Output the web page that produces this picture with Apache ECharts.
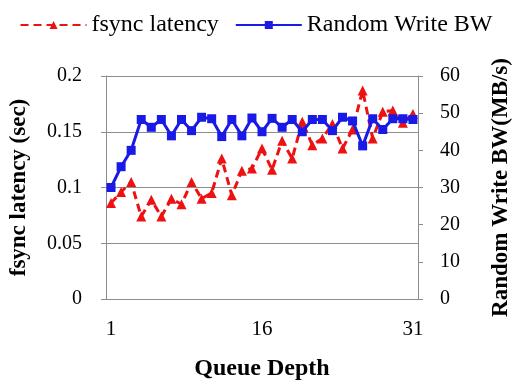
<!DOCTYPE html>
<html>
<head>
<meta charset="utf-8">
<script src="https://cdn.jsdelivr.net/npm/echarts@6/dist/echarts.min.js"></script>
<style>
  html, body { margin: 0; padding: 0; background: #fff; }
  #mychart { width: 512px; height: 383px; }
</style>
</head>
<body>
<div id="mychart"></div>
<script>
"use strict";
// queue depth 1..31
const queueDepth = [];
for (let i = 1; i <= 31; i++) {
    queueDepth.push('' + i);
}
// fsync latency (sec)
const fsyncLatency = [
    0.086, 0.096, 0.105, 0.074, 0.089, 0.074, 0.090, 0.085, 0.105, 0.090,
    0.095, 0.126, 0.093, 0.115, 0.117, 0.135, 0.116, 0.142, 0.126, 0.159,
    0.138, 0.144, 0.157, 0.135, 0.152, 0.187, 0.144, 0.168, 0.169, 0.158,
    0.166
];
// random write bandwidth (MB/s)
const writeBW = [
    30, 35.6, 40, 48.3, 46.2, 48.3, 43.9, 48.3, 45.3, 48.9,
    48.5, 43.7, 48.3, 43.9, 48.7, 45, 48.6, 46.2, 48.3, 45,
    48.3, 48.3, 45.3, 48.9, 47.9, 41.2, 48.5, 45.6, 48.5, 48.5,
    48.3
];

const serif = '"Liberation Serif", "Times New Roman", serif';
const axisGray = '#8c8c8c';

const container = document.getElementById('mychart');
const myChart = echarts.init(container);
const option = {
    animation: false,
    textStyle: { fontFamily: serif },
    legend: {
        top: 8,
        left: 'center',
        itemWidth: 66,
        itemHeight: 10,
        itemGap: 16,
        textStyle: { fontFamily: serif, fontSize: 24, color: '#000' },
        data: ['fsync latency', 'Random Write BW']
    },
    grid: {
        left: 106,
        right: 94,
        top: 76,
        bottom: 84,
        containLabel: false,
        outerBoundsMode: 'none'
    },
    xAxis: {
        type: 'category',
        data: queueDepth,
        boundaryGap: true,
        name: 'Queue Depth',
        nameLocation: 'middle',
        nameGap: 58,
        nameTextStyle: { fontFamily: serif, fontSize: 24, fontWeight: 'bold', color: '#000' },
        axisLine: { lineStyle: { color: axisGray, width: 1 } },
        axisTick: { interval: 0, length: 5, lineStyle: { color: axisGray } },
        axisLabel: {
            interval: (index) => index % 15 === 0,
            fontFamily: serif,
            fontSize: 21,
            color: '#000',
            margin: 20
        }
    },
    yAxis: [
        {
            type: 'value',
            min: 0,
            max: 0.2,
            interval: 0.05,
            name: 'fsync latency (sec)',
            nameLocation: 'middle',
            nameGap: 75,
            nameRotate: 90,
            nameTextStyle: { fontFamily: serif, fontSize: 23, fontWeight: 'bold', color: '#000' },
            axisLine: { show: true, lineStyle: { color: axisGray } },
            axisTick: { show: true, length: 5, lineStyle: { color: axisGray } },
            axisLabel: { fontFamily: serif, fontSize: 20, color: '#000', margin: 24 },
            splitLine: { show: true, lineStyle: { color: axisGray, width: 1 } }
        },
        {
            type: 'value',
            min: 0,
            max: 60,
            interval: 10,
            name: 'Random Write BW(MB/s)',
            nameLocation: 'middle',
            nameGap: 72,
            nameRotate: 90,
            nameTextStyle: { fontFamily: serif, fontSize: 23, fontWeight: 'bold', color: '#000' },
            axisLine: { show: true, lineStyle: { color: axisGray } },
            axisTick: { show: true, length: 5, lineStyle: { color: axisGray } },
            axisLabel: { fontFamily: serif, fontSize: 20, color: '#000', margin: 22 },
            splitLine: { show: false }
        }
    ],
    series: [
        {
            name: 'fsync latency',
            type: 'line',
            yAxisIndex: 0,
            data: fsyncLatency,
            symbol: 'triangle',
            symbolSize: 10,
            showAllSymbol: true,
            itemStyle: { color: '#ee1111' },
            lineStyle: { color: '#ee1111', width: 3, type: [8, 5] },
            z: 2
        },
        {
            name: 'Random Write BW',
            type: 'line',
            yAxisIndex: 1,
            data: writeBW,
            symbol: 'rect',
            symbolSize: 9,
            showAllSymbol: true,
            itemStyle: { color: '#1a1ae6' },
            lineStyle: { color: '#1a1ae6', width: 3 },
            z: 3
        }
    ]
};
myChart.setOption(option);
</script>
</body>
</html>
